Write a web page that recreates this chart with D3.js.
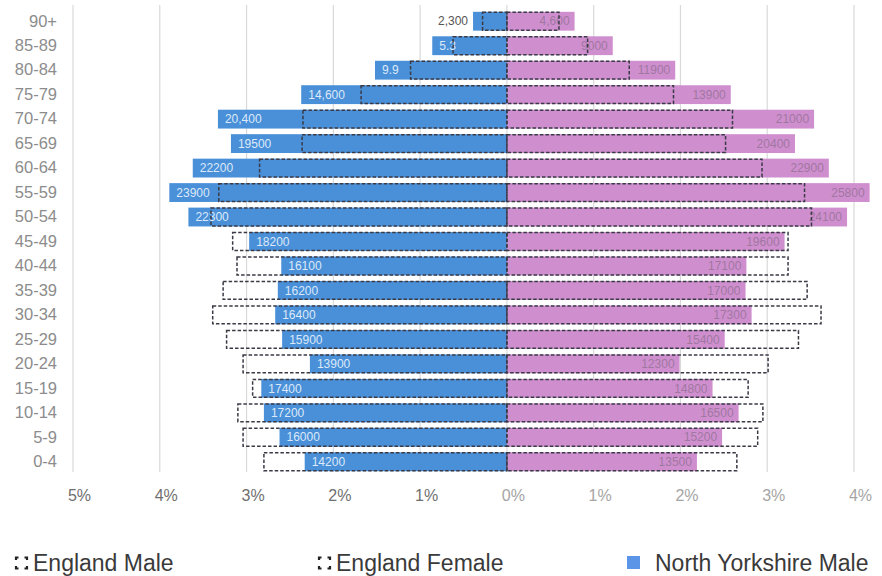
<!DOCTYPE html>
<html>
<head>
<meta charset="utf-8">
<script src="https://cdn.jsdelivr.net/npm/d3@7"></script>
<style>
  html, body { margin: 0; padding: 0; background: #fff; }
  svg { display: block; font-family: "Liberation Sans", Arial, sans-serif; }
</style>
</head>
<body>
<svg id="chart" width="882" height="576"></svg>
<script>
// Age bands, oldest at the top
const ageGroups = ["90+", "85-89", "80-84", "75-79", "70-74", "65-69", "60-64", "55-59", "50-54",
  "45-49", "40-44", "35-39", "30-34", "25-29", "20-24", "15-19", "10-14", "5-9", "0-4"];

// Share of total population (%) in each band
const nyMale = [0.39, 0.86, 1.52, 2.37, 3.33, 3.18, 3.62, 3.89, 3.67,
  2.97, 2.60, 2.64, 2.67, 2.59, 2.27, 2.83, 2.80, 2.62, 2.33];
const nyFemale = [0.78, 1.22, 1.94, 2.58, 3.54, 3.32, 3.71, 4.18, 3.92,
  3.20, 2.76, 2.75, 2.82, 2.51, 1.99, 2.37, 2.67, 2.48, 2.19];
const engMale = [0.28, 0.62, 1.11, 1.68, 2.35, 2.36, 2.85, 3.32, 3.41,
  3.16, 3.11, 3.27, 3.39, 3.23, 3.04, 2.93, 3.10, 3.04, 2.80];
const engFemale = [0.60, 0.93, 1.41, 1.92, 2.60, 2.52, 2.94, 3.43, 3.51,
  3.24, 3.24, 3.46, 3.62, 3.36, 3.01, 2.78, 2.95, 2.89, 2.65];

// North Yorkshire head counts printed on the bars
const nyMaleCounts = ["2,300", "5.3", "9.9", "14,600", "20,400", "19500", "22200", "23900", "22300",
  "18200", "16100", "16200", "16400", "15900", "13900", "17400", "17200", "16000", "14200"];
const nyFemaleCounts = ["4,600", "9000", "11900", "13900", "21000", "20400", "22900", "25800", "24100",
  "19600", "17100", "17000", "17300", "15400", "12300", "14800", "16500", "15200", "13500"];

const xTicks = [-5, -4, -3, -2, -1, 0, 1, 2, 3, 4];
const legendItems = ["England Male", "England Female", "North Yorkshire Male"];

const svg = d3.select("#chart");

const x = d3.scaleLinear().domain([-5, 4]).range([73, 854]);
const y = d3.scaleBand().domain(ageGroups).range([9, 474]).paddingInner(0.23).paddingOuter(0.115);

const blue = "#4a90d8";
const pink = "#cf8fcf";

// vertical grid lines
svg.append("g").selectAll("line").data(xTicks).join("line")
  .attr("x1", d => x(d)).attr("x2", d => x(d))
  .attr("y1", 5).attr("y2", 472)
  .attr("stroke", "#d9d9d9").attr("stroke-width", 1.2);

// x axis labels (left half a little darker than the right half)
const xAxis = d3.axisBottom(x).tickValues(xTicks).tickSize(0).tickPadding(0)
  .tickFormat(d => Math.abs(d) + "%");
const gx = svg.append("g").attr("transform", "translate(6,491)").call(xAxis);
gx.select(".domain").remove();
gx.selectAll("text").attr("font-size", 16).attr("dy", "0.6em")
  .attr("fill", d => d < 0 ? "#6f6f6f" : "#a5a5a5");

// y axis labels
const yAxis = d3.axisLeft(y).tickSize(0).tickPadding(0);
const gy = svg.append("g").attr("transform", "translate(57,0)").call(yAxis);
gy.select(".domain").remove();
gy.selectAll("text").attr("font-size", 16.5).attr("fill", "#8c8c8c");

const rows = ageGroups.map((g, i) => ({
  g, nm: nyMale[i], nf: nyFemale[i], em: engMale[i], ef: engFemale[i],
  lm: nyMaleCounts[i], lf: nyFemaleCounts[i]
}));

// North Yorkshire bars
svg.append("g").selectAll("rect").data(rows).join("rect")
  .attr("x", d => x(-d.nm)).attr("width", d => x(0) - x(-d.nm))
  .attr("y", d => y(d.g)).attr("height", y.bandwidth())
  .attr("fill", blue);
svg.append("g").selectAll("rect").data(rows).join("rect")
  .attr("x", x(0)).attr("width", d => x(d.nf) - x(0))
  .attr("y", d => y(d.g)).attr("height", y.bandwidth())
  .attr("fill", pink);

// count labels
svg.append("g").selectAll("text").data(rows).join("text")
  .attr("x", d => d.nm < 0.5 ? x(-d.nm) - 5 : x(-d.nm) + 7)
  .attr("y", d => y(d.g) + y.bandwidth() / 2)
  .attr("dy", "0.35em")
  .attr("text-anchor", d => d.nm < 0.5 ? "end" : "start")
  .attr("font-size", 12)
  .attr("fill", d => d.nm < 0.5 ? "#555" : "#dce9f8")
  .text(d => d.lm);
svg.append("g").selectAll("text").data(rows).join("text")
  .attr("x", d => x(d.nf) - 5)
  .attr("y", d => y(d.g) + y.bandwidth() / 2)
  .attr("dy", "0.35em")
  .attr("text-anchor", "end")
  .attr("font-size", 12)
  .attr("fill", "#9f779f")
  .text(d => d.lf);

// England outline bars
const dash = "3.5,2";
svg.append("g").selectAll("rect").data(rows).join("rect")
  .attr("x", d => x(-d.em)).attr("width", d => x(0) - x(-d.em))
  .attr("y", d => y(d.g) + 0.5).attr("height", y.bandwidth() - 1)
  .attr("fill", "none").attr("stroke", "#3a3a46").attr("stroke-width", 1.5)
  .attr("stroke-dasharray", dash);
svg.append("g").selectAll("rect").data(rows).join("rect")
  .attr("x", x(0)).attr("width", d => x(d.ef) - x(0))
  .attr("y", d => y(d.g) + 0.5).attr("height", y.bandwidth() - 1)
  .attr("fill", "none").attr("stroke", "#3a3a46").attr("stroke-width", 1.5)
  .attr("stroke-dasharray", dash);

// legend
const legendX = [15, 318, 627];
const lg = svg.append("g").selectAll("g").data(legendItems).join("g")
  .attr("transform", (d, i) => `translate(${legendX[i]},556)`);
// dashed-outline swatch: only the four corners show
lg.filter((d, i) => i < 2).append("rect")
  .attr("x", 1).attr("y", 1.5).attr("width", 11).attr("height", 11)
  .attr("fill", "none").attr("stroke", "#222").attr("stroke-width", 2.2)
  .attr("stroke-dasharray", "5,6").attr("stroke-dashoffset", 2.5);
lg.filter((d, i) => i === 2).append("rect")
  .attr("x", 0).attr("y", 0).attr("width", 13).attr("height", 13)
  .attr("fill", "#5b95e8");
lg.append("text")
  .attr("x", (d, i) => i === 2 ? 28 : 18).attr("y", 7).attr("dy", "0.35em")
  .attr("font-size", 23).attr("fill", "#3a3a3a")
  .text(d => d);
</script>
</body>
</html>
